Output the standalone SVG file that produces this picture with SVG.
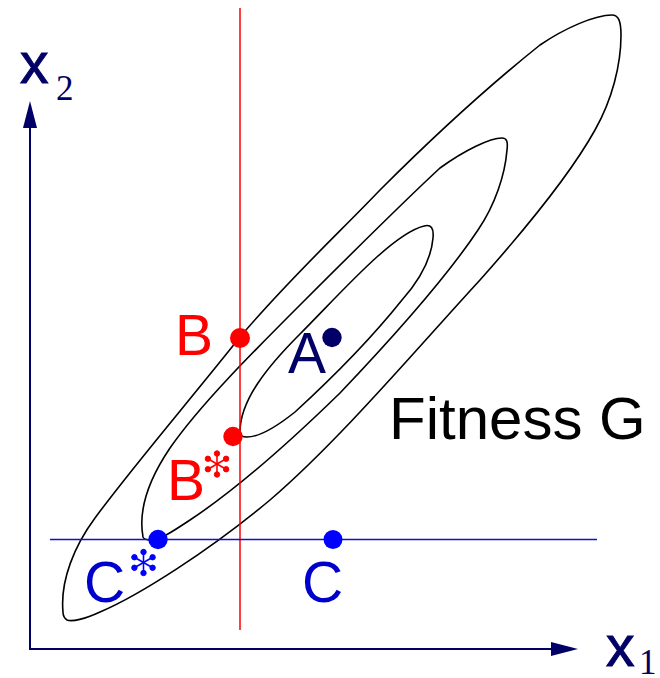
<svg xmlns="http://www.w3.org/2000/svg" width="660" height="678" viewBox="0 0 660 678">
<style>
.contour{fill:none;stroke:#000;stroke-width:1.6;stroke-linejoin:round}
.axis{stroke:#000066;stroke-width:2;fill:none}
.lbl{font-family:"Liberation Sans",Arial,sans-serif;font-size:57px}
.ax{stroke:#000066;stroke-width:1}
.sub{font-family:"Liberation Serif","Times New Roman",serif;font-size:35px;fill:#000066}
</style>
<defs>
<g id="ast">
<g stroke-width="1.6">
<line x1="0" y1="0" x2="0" y2="-10.5"/>
<line x1="0" y1="0" x2="0" y2="10.5"/>
<line x1="0" y1="0" x2="9.1" y2="-5.25"/>
<line x1="0" y1="0" x2="9.1" y2="5.25"/>
<line x1="0" y1="0" x2="-9.1" y2="-5.25"/>
<line x1="0" y1="0" x2="-9.1" y2="5.25"/>
</g>
<circle cx="0" cy="-10.5" r="2.7"/>
<circle cx="0" cy="10.5" r="2.7"/>
<circle cx="9.1" cy="-5.25" r="2.7"/>
<circle cx="9.1" cy="5.25" r="2.7"/>
<circle cx="-9.1" cy="-5.25" r="2.7"/>
<circle cx="-9.1" cy="5.25" r="2.7"/>
</g>
</defs>
<rect width="660" height="678" fill="#fff"/>
<g id="contours">
<path id="c1" class="contour" d="M 63,612 C 60,580 75,545 95,518 C 130,470 190,400 240,337 C 290,278 340,232 380,190 C 430,140 490,85 540,45 C 565,28 595,15 612,15 C 618,15 621,20 621,35 C 621,65 612,100 595,130 C 570,175 520,235 480,280 C 420,345 340,440 270,500 C 210,550 140,595 100,612 C 85,619 72,622 67,620 C 64,618 63,615 63,612 Z"/>
<path id="c2" class="contour" d="M 143,537 C 139,515 145,485 170,448 C 200,405 250,355 303,302 C 350,255 400,205 440,168 C 465,150 490,138 502,138 C 507,138 508,142 507,150 C 505,175 495,205 478,230 C 450,272 400,330 340,393 C 300,432 240,487 190,520 C 172,532 160,540 150,540 C 145,540 144,539 143,537 Z"/>
<path id="c3" class="contour" d="M 240,432 C 240,400 268,366 300,334 C 340,294 392,234 424,226 C 431,224 434,228 433,238 C 431,262 418,282 402,300 C 370,340 330,380 295,412 C 275,428 258,437 247,437 C 242,437 240,436 240,432 Z"/>
</g>
<g id="axes">
<line class="axis" x1="30" y1="649" x2="30" y2="124"/>
<polygon points="30,101 23,128 37,128" fill="#000066"/>
<line class="axis" x1="29" y1="649" x2="554" y2="649"/>
<polygon points="578,649 551,642 551,656" fill="#000066"/>
<text class="lbl ax" x="20" y="83" fill="#000066">x</text>
<text class="sub" x="56" y="100">2</text>
<text class="lbl ax" x="606" y="666" fill="#000066">x</text>
<text class="sub" x="639" y="674">1</text>
</g>
<g id="constraints">
<line x1="240" y1="8" x2="240" y2="630" stroke="#ff0000" stroke-width="1.5"/>
<line x1="50" y1="539.5" x2="597" y2="539.5" stroke="#1010cc" stroke-width="1.5"/>
</g>
<g id="pointA">
<circle cx="332" cy="337.5" r="9.7" fill="#000066"/>
<text class="lbl" x="288" y="373" fill="#000066">A</text>
</g>
<g id="pointB">
<circle cx="240" cy="338" r="10" fill="#ff0000"/>
<text class="lbl" x="175" y="355" fill="#ff0000">B</text>
</g>
<g id="pointBstar">
<circle cx="233" cy="436.5" r="9.7" fill="#ff0000"/>
<text class="lbl" x="167" y="500" fill="#ff0000">B</text>
<use href="#ast" x="217" y="464" fill="#ff0000" stroke="#ff0000"/>
</g>
<g id="pointCstar">
<circle cx="158" cy="539.5" r="9.7" fill="#0000ff"/>
<text class="lbl" x="84" y="602" fill="#0000cc">C</text>
<use href="#ast" x="143.5" y="562.5" fill="#0000ff" stroke="#0000ff"/>
</g>
<g id="pointC">
<circle cx="333" cy="539.5" r="9.5" fill="#0000ff"/>
<text class="lbl" x="302" y="602" fill="#0000cc">C</text>
</g>
<g id="title">
<text class="lbl" x="389" y="439" style="font-size:60px" fill="#000">Fitness G</text>
</g>
</svg>
